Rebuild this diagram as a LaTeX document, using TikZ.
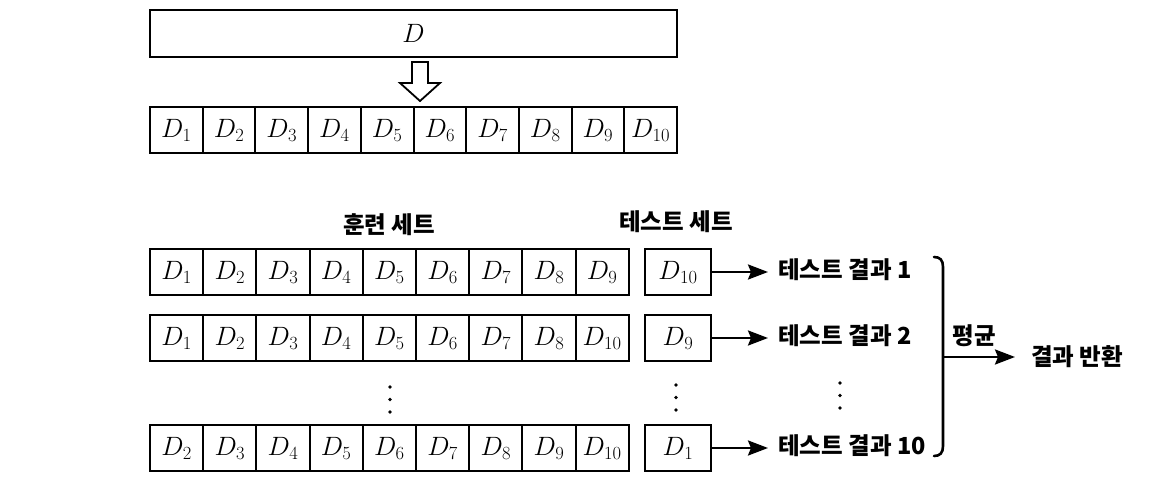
\RequirePackage{fix-cm}
\documentclass[tikz,border=0pt]{standalone}
\usepackage{fontspec}
\newfontfamily\kr{Noto Sans CJK KR}
\usetikzlibrary{arrows.meta}
\tikzset{
  cell/.style={draw, line width=2pt, minimum height=46pt, inner sep=0pt, font=\fontsize{26.5}{31}\selectfont},
  lbl/.style={font=\kr\bfseries\fontsize{23.5}{28}\selectfont, inner sep=0pt},
  arr/.style={line width=2.6pt, -{Stealth[length=20pt,width=15pt,inset=3pt]}},
  dot/.style={circle, fill, inner sep=0pt, minimum size=3.6pt}
}
\begin{document}
\begin{tikzpicture}[x=1pt,y=-1pt]
\useasboundingbox (0,0) rectangle (1170,481);
% top box
\node[cell, minimum width=527pt, minimum height=47pt, anchor=north west] (D) at (149,9) {$D$};
% hollow arrow
\draw[line width=1.8pt, line join=miter] (412,62) -- (428,62) -- (428,83) -- (440,83) -- (420,101) -- (400,83) -- (412,83) -- cycle;
% row of 10
\foreach \i in {1,...,10}{
  \node[cell, minimum width=52.7pt, anchor=north west] (r\i) at ({149+52.7*(\i-1)},106) {$D_{\i}$};
}
% labels
\node[lbl] (train) at (389,225) {훈련 세트};
\node[lbl] (test) at (676,222) {테스트 세트};
% row A
\foreach \i in {1,...,9}{
  \node[cell, minimum width=53.2pt, anchor=north west] (a\i) at ({149+53.2*(\i-1)},248) {$D_{\i}$};
}
\node[cell, minimum width=66pt, anchor=north west] (ta) at (644,248) {$D_{10}$};
% row B
\foreach \i/\t in {1/1,2/2,3/3,4/4,5/5,6/6,7/7,8/8,9/10}{
  \node[cell, minimum width=53.2pt, anchor=north west] (b\i) at ({149+53.2*(\i-1)},314) {$D_{\t}$};
}
\node[cell, minimum width=66pt, anchor=north west] (tb) at (644,314) {$D_{9}$};
% row C
\foreach \i/\t in {1/2,2/3,3/4,4/5,5/6,6/7,7/8,8/9,9/10}{
  \node[cell, minimum width=53.2pt, anchor=north west] (c\i) at ({149+53.2*(\i-1)},424) {$D_{\t}$};
}
\node[cell, minimum width=66pt, anchor=north west] (tc) at (644,424) {$D_{1}$};
% dots
\foreach \x/\y in {390/387, 676/385, 840/383}{
  \node[dot] at (\x,\y) {};
  \node[dot] at (\x,\y+12.5) {};
  \node[dot] at (\x,\y+25) {};
}
% results
\node[lbl, anchor=west] (res1) at (778,270) {테스트 결과 1};
\node[lbl, anchor=west] (res2) at (778,336) {테스트 결과 2};
\node[lbl, anchor=west] (res10) at (778,446) {테스트 결과 10};
\draw[arr, shorten >=10pt] (ta.east) -- (ta.east -| res1.west);
\draw[arr, shorten >=10pt] (tb.east) -- (tb.east -| res2.west);
\draw[arr, shorten >=10pt] (tc.east) -- (tc.east -| res10.west);
% bracket
\draw[line width=2.6pt, line cap=round] (934,257) .. controls (940,257) and (943,260) .. (943,267) -- (943,446) .. controls (943,453) and (940,456) .. (934,456);
\coordinate (bm) at (943,357);
\node[lbl] (avg) at (974,336) {평균};
\node[lbl, anchor=west] (ret) at (1031,357) {결과 반환};
\draw[arr, shorten >=16pt] (bm) -- (bm -| ret.west);
\end{tikzpicture}
\end{document}
